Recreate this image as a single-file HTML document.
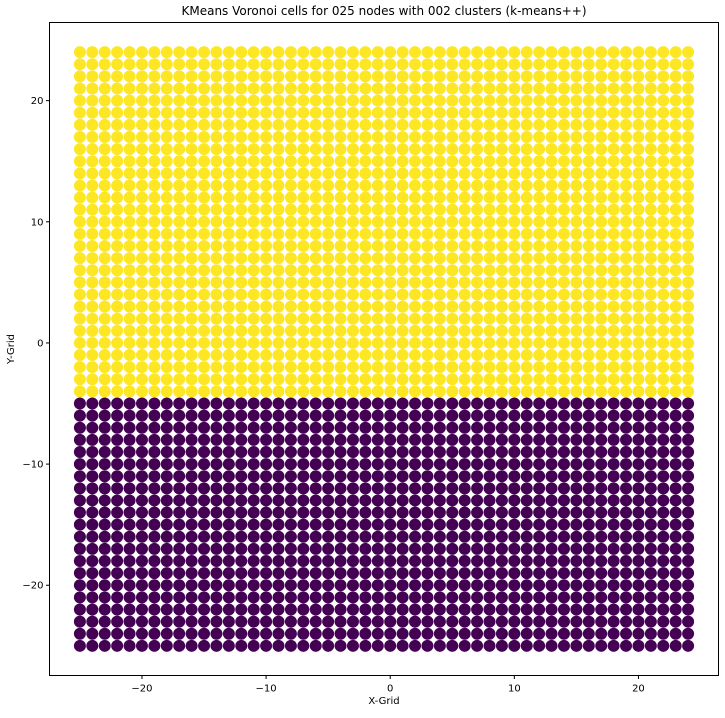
<!DOCTYPE html>
<html><head><meta charset="utf-8"><style>
body{margin:0;background:#fff;}
svg text{font-family:"DejaVu Sans","Liberation Sans",sans-serif;fill:#000;}
</style></head><body>
<svg id="chart" width="725" height="713" xmlns="http://www.w3.org/2000/svg">
<text x="384" y="15" text-anchor="middle" font-size="12">KMeans Voronoi cells for 025 nodes with 002 clusters (k-means++)</text>
<g id="dots"></g>
<rect x="49.5" y="22.5" width="669" height="653" fill="none" stroke="#000" stroke-width="1"/>
<g id="xticks"></g>
<g id="yticks"></g>
<text x="384" y="704" text-anchor="middle" font-size="10">X-Grid</text>
<text x="14" y="349" text-anchor="middle" font-size="10" transform="rotate(-90 14 349)">Y-Grid</text>
</svg>
<script>
const gridXs = []; for (let i = -25; i <= 24; i++) gridXs.push(i);
const gridYs = []; for (let i = -25; i <= 24; i++) gridYs.push(i);
const clusterBoundaryY = -4.5;
const clusterColors = ["#440154", "#fde725"];
const xTickValues = [-20, -10, 0, 10, 20];
const yTickValues = [-20, -10, 0, 10, 20];
const xTickLabels = ["−20", "−10", "0", "10", "20"];
const yTickLabels = ["−20", "−10", "0", "10", "20"];

const NS = "http://www.w3.org/2000/svg";
const L = 49.5, R = 718.5, T = 22.5, B = 675.5;
const xMin = -27.45, xMax = 26.45, yMin = -27.45, yMax = 26.45;
const sx = v => L + (v - xMin) / (xMax - xMin) * (R - L);
const sy = v => B - (v - yMin) / (yMax - yMin) * (B - T);

const dots = document.getElementById('dots');
for (const y of gridYs) {
  for (const x of gridXs) {
    const c = document.createElementNS(NS, 'circle');
    c.setAttribute('cx', sx(x));
    c.setAttribute('cy', sy(y));
    c.setAttribute('r', 6);
    c.setAttribute('fill', clusterColors[y > clusterBoundaryY ? 1 : 0]);
    
    
    dots.appendChild(c);
  }
}
const xg = document.getElementById('xticks');
xTickValues.forEach((v, i) => {
  const ln = document.createElementNS(NS, 'line');
  ln.setAttribute('x1', sx(v)); ln.setAttribute('x2', sx(v));
  ln.setAttribute('y1', B); ln.setAttribute('y2', B + 3.5);
  ln.setAttribute('stroke', '#000');
  
  
  xg.appendChild(ln);
  const t = document.createElementNS(NS, 'text');
  t.setAttribute('x', sx(v)); t.setAttribute('y', B + 16);
  t.setAttribute('text-anchor', 'middle'); t.setAttribute('font-size', '10');
  t.textContent = xTickLabels[i];
  
  
  xg.appendChild(t);
});
const yg = document.getElementById('yticks');
yTickValues.forEach((v, i) => {
  const ln = document.createElementNS(NS, 'line');
  ln.setAttribute('x1', L - 3.5); ln.setAttribute('x2', L);
  ln.setAttribute('y1', sy(v)); ln.setAttribute('y2', sy(v));
  ln.setAttribute('stroke', '#000');
  
  
  yg.appendChild(ln);
  const t = document.createElementNS(NS, 'text');
  t.setAttribute('x', L - 6); t.setAttribute('y', sy(v) + 3.5);
  t.setAttribute('text-anchor', 'end'); t.setAttribute('font-size', '10');
  t.textContent = yTickLabels[i];
  
  
  yg.appendChild(t);
});
</script>
</body></html>
